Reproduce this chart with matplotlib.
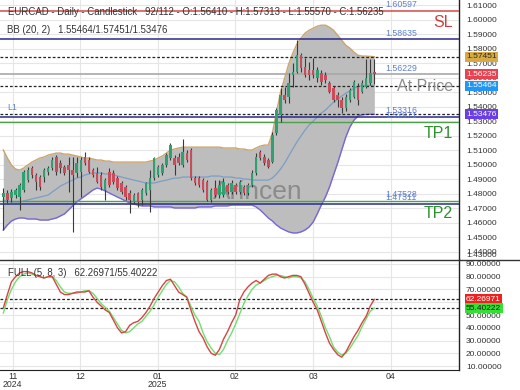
import matplotlib
matplotlib.use("Agg")
import matplotlib.pyplot as plt
import numpy as np
from matplotlib.ticker import FuncFormatter
from matplotlib.lines import Line2D

plt.rcParams['font.family'] = ['Liberation Sans', 'DejaVu Sans']

# ---------------- data ----------------
opens = [1.4778,1.4806,1.4772,1.4792,1.4778,1.4827,1.4895,1.4978,1.4930,1.4916,
 1.4916,1.4950,1.4978,1.5054,1.5012,1.4985,1.4999,1.4964,1.4944,1.4950,
 1.5054,1.5033,1.4964,1.4944,1.4930,1.4827,1.4950,1.4944,1.4909,1.4875,
 1.4847,1.4806,1.4744,1.4806,1.4758,1.4806,1.4827,1.4909,1.4930,1.4944,
 1.4999,1.5047,1.5047,1.5054,1.4999,1.5081,1.5102,1.4909,1.4909,1.4895,
 1.4882,1.4758,1.4840,1.4792,1.4792,1.4861,1.4813,1.4861,1.4813,1.4847,
 1.4806,1.4861,1.4944,1.5088,1.5054,1.5033,1.5019,1.5219,1.5343,1.5480,
 1.5466,1.5618,1.5638,1.5755,1.5673,1.5652,1.5652,1.5597,1.5632,1.5618,
 1.5563,1.5528,1.5480,1.5446,1.5391,1.5446,1.5466,1.5535,1.5501,1.5535,
 1.5563,1.56410]
highs = [1.4840,1.4827,1.4833,1.4840,1.4875,1.4964,1.4985,1.4992,1.4944,1.4930,
 1.4978,1.4992,1.5054,1.5067,1.5033,1.4999,1.5054,1.5054,1.5054,1.5054,
 1.5088,1.5054,1.4978,1.4985,1.4950,1.4909,1.4978,1.4964,1.4923,1.4889,
 1.4861,1.4827,1.4806,1.4813,1.4840,1.4882,1.4964,1.5054,1.4999,1.5012,
 1.5081,1.5150,1.5067,1.5081,1.5178,1.5102,1.5116,1.4923,1.4923,1.4909,
 1.4895,1.4840,1.4895,1.4895,1.4909,1.4875,1.4895,1.4875,1.4895,1.4861,
 1.4875,1.4964,1.5081,1.5102,1.5074,1.5047,1.5226,1.5391,1.5528,1.5535,
 1.5632,1.5700,1.5860,1.5769,1.5735,1.5707,1.5735,1.5673,1.5652,1.5638,
 1.5577,1.5542,1.5501,1.5466,1.5487,1.5528,1.5583,1.5563,1.5583,1.5731,
 1.5731,1.57313]
lows = [1.4551,1.4737,1.4744,1.4772,1.4689,1.4813,1.4882,1.4909,1.4827,1.4827,
 1.4882,1.4930,1.4964,1.4930,1.4944,1.4930,1.4813,1.4538,1.4916,1.4778,
 1.4999,1.4944,1.4916,1.4875,1.4827,1.4758,1.4847,1.4868,1.4827,1.4799,
 1.4758,1.4668,1.4730,1.4710,1.4723,1.4792,1.4675,1.4895,1.4916,1.4930,
 1.4985,1.5033,1.4930,1.4999,1.4985,1.5019,1.4895,1.4861,1.4847,1.4813,
 1.4751,1.4744,1.4778,1.4772,1.4778,1.4799,1.4799,1.4799,1.4799,1.4792,
 1.4792,1.4847,1.4930,1.5033,1.4999,1.4978,1.5012,1.5205,1.5294,1.5425,
 1.5425,1.5535,1.5632,1.5638,1.5604,1.5583,1.5597,1.5570,1.5549,1.5563,
 1.5494,1.5432,1.5398,1.5356,1.5370,1.5432,1.5460,1.5411,1.5494,1.5528,
 1.5549,1.55570]
closes = [1.4806,1.4758,1.4813,1.4827,1.4861,1.4950,1.4964,1.4930,1.4882,1.4847,
 1.4964,1.4978,1.5033,1.4950,1.4978,1.4944,1.4964,1.4930,1.5012,1.5033,
 1.5012,1.4950,1.4930,1.4882,1.4847,1.4895,1.4861,1.4882,1.4840,1.4813,
 1.4778,1.4758,1.4792,1.4744,1.4827,1.4875,1.4909,1.5047,1.4985,1.4999,
 1.5067,1.5136,1.4999,1.5012,1.5088,1.5033,1.4909,1.4875,1.4861,1.4827,
 1.4758,1.4827,1.4792,1.4861,1.4882,1.4813,1.4875,1.4813,1.4882,1.4806,
 1.4861,1.4944,1.5054,1.5047,1.5012,1.4985,1.5205,1.5377,1.5480,1.5446,
 1.5563,1.5638,1.5755,1.5666,1.5618,1.5618,1.5618,1.5652,1.5570,1.5583,
 1.5501,1.5446,1.5446,1.5391,1.5466,1.5515,1.5570,1.5446,1.5563,1.5597,
 1.5632,1.56235]

bb_upper = [1.5102,1.5047,1.4999,1.4971,1.4964,1.4978,1.4999,1.5019,1.5033,1.5047,
 1.5054,1.5067,1.5074,1.5081,1.5081,1.5074,1.5074,1.5067,1.5061,1.5054,
 1.5047,1.5047,1.5040,1.5033,1.5033,1.5026,1.5026,1.5019,1.5019,1.5019,
 1.5019,1.5019,1.5019,1.5019,1.5019,1.5019,1.5026,1.5033,1.5047,1.5061,
 1.5081,1.5102,1.5109,1.5116,1.5122,1.5122,1.5122,1.5122,1.5122,1.5122,
 1.5122,1.5122,1.5122,1.5122,1.5116,1.5116,1.5116,1.5116,1.5109,1.5109,
 1.5102,1.5102,1.5116,1.5129,1.5136,1.5136,1.5219,1.5363,1.5501,1.5597,
 1.5694,1.5769,1.5831,1.5872,1.5907,1.5927,1.5941,1.5955,1.5962,1.5962,
 1.5948,1.5927,1.5893,1.5859,1.5824,1.5804,1.5776,1.5755,1.5749,1.5749,
 1.5747,1.57451]
bb_mid = [1.4758,1.4751,1.4744,1.4744,1.4744,1.4751,1.4758,1.4765,1.4772,1.4778,
 1.4785,1.4792,1.4813,1.4833,1.4854,1.4868,1.4882,1.4895,1.4909,1.4916,
 1.4930,1.4937,1.4944,1.4944,1.4944,1.4937,1.4937,1.4930,1.4923,1.4916,
 1.4909,1.4902,1.4895,1.4889,1.4882,1.4875,1.4875,1.4875,1.4882,1.4889,
 1.4895,1.4902,1.4909,1.4909,1.4916,1.4916,1.4916,1.4916,1.4916,1.4916,
 1.4916,1.4923,1.4923,1.4923,1.4916,1.4916,1.4916,1.4909,1.4909,1.4902,
 1.4902,1.4895,1.4895,1.4895,1.4895,1.4895,1.4909,1.4937,1.4971,1.5012,
 1.5061,1.5109,1.5157,1.5198,1.5239,1.5274,1.5301,1.5329,1.5356,1.5377,
 1.5405,1.5432,1.5453,1.5473,1.5494,1.5508,1.5528,1.5540,1.5545,1.5547,
 1.5547,1.55464]
bb_lower = [1.4551,1.4586,1.4613,1.4627,1.4634,1.4634,1.4627,1.4627,1.4627,1.4620,
 1.4620,1.4620,1.4627,1.4634,1.4648,1.4662,1.4689,1.4717,1.4744,1.4765,
 1.4785,1.4806,1.4827,1.4840,1.4833,1.4820,1.4806,1.4792,1.4778,1.4765,
 1.4751,1.4737,1.4730,1.4723,1.4717,1.4717,1.4717,1.4710,1.4710,1.4710,
 1.4710,1.4710,1.4703,1.4703,1.4703,1.4703,1.4703,1.4703,1.4710,1.4710,
 1.4710,1.4710,1.4717,1.4717,1.4717,1.4717,1.4723,1.4723,1.4723,1.4723,
 1.4723,1.4723,1.4710,1.4689,1.4662,1.4634,1.4613,1.4586,1.4565,1.4551,
 1.4538,1.4531,1.4531,1.4538,1.4551,1.4572,1.4606,1.4662,1.4723,1.4778,
 1.4847,1.4930,1.5012,1.5102,1.5191,1.5260,1.5308,1.5336,1.5345,1.5347,
 1.5348,1.53476]

stoch_k = [55.5,66,76,80,83,84,84,83,81,80,
 79,80,80,74,68,66,66,67,68,68,
 68,69,64,60,57,54,52,46,40,36,
 37,42,44,45,48,52,57,63,68,73,
 77,78,73,68,66,64,54,45,37,32,
 25,20,18.5,23,31,37,44,50,62,68,
 72,75,77,75,78,81,82,82,80,79,
 80,81,81,80,74,67,60,54,45,36,
 28,23,19,17,21,27,33,38,44,49,
 57,62.26971]
stoch_d = [51.5,62,70,76,80,82,83,82,81,80,
 79,80,80,77,72,68,67,67,67,68,
 69,69,67,63,59,56,53,48,43,38,
 36,37,40,43,45,49,53,58,64,69,
 74,77,76,72,67,64,57,50,45,36,
 29,24,20,19,23,30,36,43,51,59,
 65,70,73.5,75,77,79,80,81,81,80,
 79,80,80,79,76,70,63,57,49,40,
 33,25,21,18.7,20,24,29,34,41,47,
 53,55.40222]

levels_solid = [(1.60597, '#d64848', 1.1), (1.58635, '#2b2b8c', 1.1),
                (1.56229, '#a8a8a8', 1.2), (1.53316, '#2b2b8c', 1.1),
                (1.52971, '#4f9f4f', 1.0), (1.47528, '#4f9f4f', 1.0),
                (1.47311, '#2b2b8c', 1.1)]
levels_dashed = [1.57451, 1.55464, 1.53476]
level_labels = ['1.60597', '1.58635', '1.56229', '1.53316', '1.52971', '1.47528', '1.47311']
osc_dashed = [62.26971, 55.40222]

month_pos = [2.3, 18.8, 37.9, 56.8, 76.0, 95.0]
month_labels = ['11\n2024', '12', '01\n2025', '02', '03', '04']
price_ticks = [1.44, 1.45, 1.46, 1.47, 1.48, 1.49, 1.50, 1.51, 1.52, 1.53,
               1.54, 1.55, 1.56, 1.57, 1.58, 1.59, 1.60, 1.61]
osc_ticks = [10, 20, 30, 40, 50, 60, 70, 80, 90]

# ---------------- figure ----------------
W, H = 520, 390
fig = plt.figure(figsize=(W/100, H/100), dpi=100)
fig.patch.set_facecolor('white')
PW = 459 / W
ax = fig.add_axes([0, 131/H, PW, 259/H])
ax2 = fig.add_axes([0, 20/H, PW, 111/H])

x = np.arange(len(closes))
O = np.array(opens); Hh = np.array(highs); L = np.array(lows); C = np.array(closes)

XL = (-0.81, 111.77)
for a in (ax, ax2):
    a.set_xlim(*XL)
    for s in ['top', 'left', 'bottom']:
        a.spines[s].set_visible(False)
    a.spines['right'].set_color('#222222')
    a.spines['right'].set_linewidth(1.0)
    a.set_xticks(month_pos)
    a.grid(True, color='#e6e6e6', lw=0.8)
    a.set_axisbelow(True)
    a.yaxis.tick_right()
    a.tick_params(axis='y', length=0, pad=5, labelsize=6, labelcolor='#333333')
ax2.spines['bottom'].set_visible(True)
ax2.spines['bottom'].set_color('#222222')

ax.set_ylim(1.43514, 1.61355)
ax.set_yticks(price_ticks)
ax.yaxis.set_major_formatter(FuncFormatter(lambda v, p: f'{v:.5f}'))
ax.tick_params(axis='x', length=0, labelbottom=False)

ax2.set_ylim(6.94, 93.86)
ax2.set_yticks(osc_ticks)
ax2.yaxis.set_major_formatter(FuncFormatter(lambda v, p: f'{v:.5f}'))
ax2.set_xticklabels(month_labels)
ax2.tick_params(axis='x', length=0, pad=1.5, labelsize=6.3, labelcolor='#333333')
for t in ax2.get_xticklabels():
    t.set_linespacing(0.85)

# Bollinger band
ax.fill_between(x, bb_lower, bb_upper, color='#bdbdbd', lw=0, zorder=1)
ax.plot(x, bb_upper, color='#caa56c', lw=1.0, zorder=2)
ax.plot(x, bb_mid, color='#7b9ec4', lw=0.9, zorder=2)
ax.plot(x, bb_lower, color='#7666dc', lw=1.0, zorder=2)

# watermark
ax.text(213/459, 1 - 192/259, 'Arincen', transform=ax.transAxes, fontsize=19,
        color='#6a6a6a', alpha=0.6, ha='left', va='center', zorder=2.5)

# level lines
for val, col, lw in levels_solid:
    ax.axhline(val, color=col, lw=lw, zorder=3)
for val in levels_dashed:
    ax.axhline(val, color='#222222', lw=0.9, ls=(0, (2.2, 1.6)), zorder=3)
for val, lab in zip([v for v, _, _ in levels_solid], level_labels):
    ax.annotate(lab, xy=(385/459, val), xycoords=('axes fraction', 'data'),
                xytext=(0, 1.2), textcoords='offset points', fontsize=6.3,
                color='#5f7fd0', ha='left', va='bottom', zorder=6)

# candles
up = C >= O
cols = np.where(up, '#30a071', '#c94c5b')
ax.vlines(x, L, Hh, color='#3a3a3a', lw=0.8, zorder=4)
ax.bar(x, np.maximum(np.abs(C - O), 0.00025), bottom=np.minimum(O, C), width=0.62,
       color=cols, lw=0, zorder=5)

# right side labels
ax.text(453/459, 1 - 22.5/259, 'SL', transform=ax.transAxes, fontsize=11.5,
        color='#d23c3c', ha='right', va='center', zorder=7)
ax.text(453/459, 1 - 86.5/259, 'At Price', transform=ax.transAxes, fontsize=11.5,
        color='#8c8c8c', ha='right', va='center', zorder=7)
ax.text(453/459, 1 - 134/259, 'TP1', transform=ax.transAxes, fontsize=11.5,
        color='#2f8f2f', ha='right', va='center', zorder=7)
ax.text(453/459, 1 - 213/259, 'TP2', transform=ax.transAxes, fontsize=11.5,
        color='#2f8f2f', ha='right', va='center', zorder=7)
ax.text(7/459, 1 - 107/259, 'L1', transform=ax.transAxes, fontsize=6.3,
        color='#5f7fd0', ha='left', va='center', zorder=7)

# price tags on the axis
def tag(a, y, txt, fc, tc):
    a.text(466/459, y, txt, transform=a.get_yaxis_transform(), ha='left', va='center',
           fontsize=6, color=tc, clip_on=False, zorder=10,
           bbox=dict(boxstyle='square,pad=0.18', fc=fc, ec='none'))

tag(ax, 1.57451, '1.57451', '#d8aa44', '#2a2a2a')
tag(ax, 1.56235, '1.56235', '#e8414f', 'white')
tag(ax, 1.55464, '1.55464', '#2196f3', 'white')
tag(ax, 1.53476, '1.53476', '#6a3de6', 'white')
ax.text(466/459, 0.0, '1.43000', transform=ax.transAxes, ha='left', va='bottom',
        fontsize=6, color='#333333', clip_on=False)

# oscillator
ax2.plot(x, stoch_d, color='#6fe06f', lw=1.0, zorder=3)
ax2.plot(x, stoch_k, color='#d84444', lw=1.0, zorder=4)
for v in osc_dashed:
    ax2.axhline(v, color='#222222', lw=0.9, ls=(0, (2.2, 1.6)), zorder=2)
tag(ax2, 62.26971, '62.26971', '#ee2020', 'white')
tag(ax2, 55.40222, '55.40222', '#33e033', '#1a1a1a')

# headers
fig.text(8/W, 1 - 12/H, 'EURCAD - Daily - Candlestick   92/112 - O:1.56410 - H:1.57313 - L:1.55570 - C:1.56235',
         fontsize=6.9, color='#333333', ha='left', va='center')
fig.text(7/W, 1 - 30/H, 'BB (20, 2)   1.55464/1.57451/1.53476',
         fontsize=6.9, color='#333333', ha='left', va='center')
fig.text(8/W, 1 - 273/H, 'FULL (5, 8, 3)   62.26971/55.40222',
         fontsize=6.9, color='#333333', ha='left', va='center')

# separator between panels
fig.add_artist(Line2D([0, 1], [1 - 259.5/H, 1 - 259.5/H], transform=fig.transFigure,
                      color='#333333', lw=1.0))

fig.savefig('out.png', dpi=100, facecolor='white')
